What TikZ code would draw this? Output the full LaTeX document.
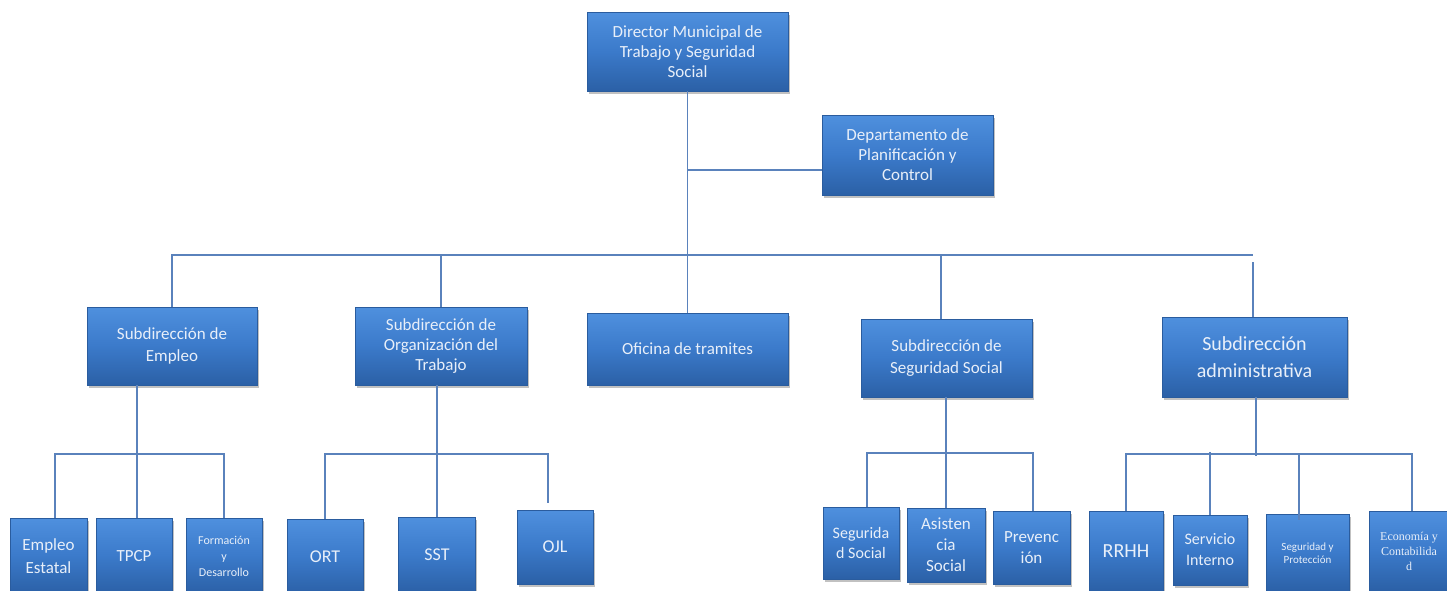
\documentclass[tikz,border=0pt]{standalone}
\usepackage{fontspec}
\setmainfont{Carlito}
\newfontfamily\tnr{Liberation Serif}
\usetikzlibrary{shadows}
\definecolor{boxtop}{HTML}{4F90DE}
\definecolor{boxmid}{HTML}{3B7ACA}
\definecolor{boxbot}{HTML}{2B60A6}
\definecolor{boxedge}{HTML}{2A5C9E}
\definecolor{boxhi}{HTML}{7FB0EA}
\definecolor{txt}{HTML}{E8EFF9}
\definecolor{connc}{HTML}{5A82BC}
\tikzset{
  box/.style={rectangle, draw=boxedge, line width=0.5pt, top color=boxtop, bottom color=boxbot, middle color=boxmid,
    text=txt, align=center, inner sep=1pt,
    path picture={\draw[boxhi, line width=2pt] (path picture bounding box.north west) -- (path picture bounding box.north east);},
    drop shadow={shadow xshift=1.5pt, shadow yshift=-2.5pt, opacity=0.35, fill=black!70}},
  conn/.style={draw=connc, line width=1.6pt},
  fs/.style 2 args={font=\fontsize{#1}{#2}\selectfont},
  sz/.style 2 args={minimum width=#1pt, minimum height=#2pt}
}
\begin{document}
\begin{tikzpicture}[x=1pt,y=-1pt]
\useasboundingbox (0,0) rectangle (1447,590);
\clip (0,0) rectangle (1447,590);
% level 0-1
\node[box,sz={201}{79},fs={17}{20}] (dir) at (687.5,51.5) {Director Municipal de\\Trabajo y Seguridad\\Social};
\node[box,sz={171}{80},fs={17}{20}] (dep) at (907.5,155) {Departamento de\\Planificación y\\Control};
\node[box,sz={170}{78},fs={17}{22}] (semp) at (172,346) {Subdirección de\\Empleo};
\node[box,sz={172}{78},fs={17}{20}] (sorg) at (441,346) {Subdirección de\\Organización del\\Trabajo};
\node[box,sz={201}{72},fs={17}{20}] (ofi) at (687.5,349) {Oficina de tramites};
\node[box,sz={171}{78},fs={17}{22}] (sss) at (946.5,358) {Subdirección de\\Seguridad Social};
\node[box,sz={185}{80},fs={20}{27}] (sadm) at (1254.5,357) {Subdirección\\administrativa};
% bottom level
\node[box,sz={77}{76},fs={17}{23}] (ee) at (48.5,556) {Empleo\\Estatal};
\node[box,sz={76}{76},fs={17}{21}] (tpcp) at (134,556) {TPCP};
\node[box,sz={76}{76},fs={12}{16}] (fyd) at (224,556) {Formación\\y\\Desarrollo};
\node[box,sz={76}{76},fs={18}{20}] (ort) at (325,557) {ORT};
\node[box,sz={77}{76},fs={18}{20}] (sst) at (437,555) {SST};
\node[box,sz={76}{74},fs={18}{20}] (ojl) at (555,547) {OJL};
\node[box,sz={76}{72},fs={16}{20}] (segsoc) at (861,543) {Segurida\\d Social};
\node[box,sz={78}{74},fs={17}{21}] (asis) at (946,545) {Asisten\\cia\\Social};
\node[box,sz={77}{73},fs={17}{21}] (prev) at (1031.5,547.5) {Prevenc\\ión};
\node[box,sz={74}{80},fs={20}{23}] (rrhh) at (1126,551) {RRHH};
\node[box,sz={74}{70},fs={16}{21}] (serv) at (1210,550) {Servicio\\Interno};
\node[box,sz={83}{78},fs={11}{13.5}] (segp) at (1307.5,553) {Seguridad y\\Protección};
\node[box,sz={80}{80},font=\tnr\fontsize{12}{15}\selectfont] (eco) at (1409,551) {Economía y\\Contabilida\\d};
% connectors top
\coordinate (busR) at (1253,255);
\draw[conn] (dir.south) -- (ofi.north);
\draw[conn] ([yshift=-15pt]dep.west) -- ([yshift=-15pt]dep.west -| dir.south);
\draw[conn] (semp.north) |- (busR);
\draw[conn] (sorg.north) -- (sorg.north |- busR);
\draw[conn] ([xshift=-5.5pt]sss.north) -- ++(0,-64);
\draw[conn] ([xshift=-1.5pt]sadm.north) -- ++(0,-55);
% empleo group
\draw[conn] ([xshift=-35pt]semp.south) -- ++(0,133);
\draw[conn] ([xshift=6.5pt]ee.north) -- ++(0,-64) -| (fyd.north);
% organizacion group
\draw[conn] (sst.north |- sorg.south) -- (sst.north);
\draw[conn] (ort.north) -- ++(0,-65) -| ([shift={(-7pt,7pt)}]ojl.north);
% seguridad social group
\draw[conn] (asis.north |- sss.south) -- (asis.north);
\draw[conn] ([xshift=6pt]segsoc.north) -- ++(0,-54) -| ([xshift=1.5pt]prev.north);
% administrativa group
\draw[conn] ([xshift=1.5pt]sadm.south) -- ++(0,59);
\draw[conn] (rrhh.north) -- ++(0,-57) -| ([xshift=3pt]eco.north);
\draw[conn] (serv.north) -- ++(0,-63);
\draw[conn] ([shift={(-8.5pt,-6pt)}]segp.north) -- ++(0,-66);
\end{tikzpicture}
\end{document}
